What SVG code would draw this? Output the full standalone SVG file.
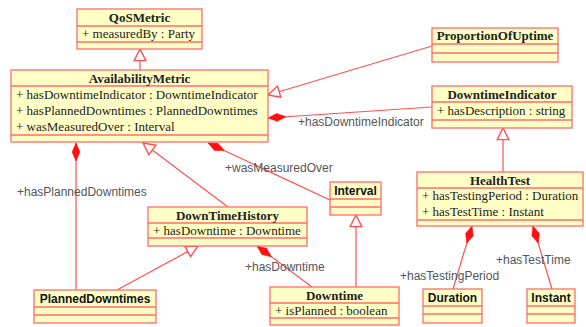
<svg xmlns="http://www.w3.org/2000/svg" width="586" height="327" viewBox="0 0 586 327">
<defs>
<style>
.box{fill:#ffffc6;stroke:#ff6b6b;stroke-width:1.3}
.sep{stroke:#ff6b6b;stroke-width:1.3}
.title{font-family:"Liberation Serif",serif;font-weight:bold;font-size:13px;fill:#222;text-anchor:middle}
.stitle{font-family:"Liberation Sans",sans-serif;font-weight:bold;font-size:12px;fill:#111;text-anchor:middle}
.attr{font-family:"Liberation Serif",serif;font-size:13px;fill:#222}
.lbl{font-family:"Liberation Sans",sans-serif;font-size:12px;fill:#555}
.con{stroke:#ff5050;stroke-width:1.2;fill:none}
.gen{marker-end:url(#tri)}
.comp{marker-start:url(#dia)}
</style>
<marker id="tri" markerUnits="userSpaceOnUse" markerWidth="14" markerHeight="14" viewBox="-1 -6 12 12" refX="10" refY="0" orient="auto">
<path d="M0,-5 L10,0 L0,5 Z" fill="#fff" stroke="#ff5050" stroke-width="1.2"/>
</marker>
<marker id="dia" markerUnits="userSpaceOnUse" markerWidth="18" markerHeight="10" viewBox="0 -4 16 8" refX="0" refY="0" orient="auto">
<path d="M0,0 L8,-3.5 L16,0 L8,3.5 Z" fill="#ff1010" stroke="#ff1010" stroke-width="0.5"/>
</marker>
</defs>

<g id="connectors">
<path class="con gen" d="M140,70 L140,49"/>
<path class="con gen" d="M432,46 L268,95"/>
<path class="con comp" d="M268,118 L432,107"/>
<path class="con comp" d="M76,143 L76,290"/>
<path class="con gen" d="M228,207 L143,143"/>
<path class="con gen" d="M117,290 L198,246"/>
<path class="con comp" d="M208,143 L330,200"/>
<path class="con comp" d="M257,246 L312,287"/>
<path class="con gen" d="M356,287 L356,215"/>
<path class="con gen" d="M503,172 L503,128"/>
<path class="con comp" d="M472,226 L453,289"/>
<path class="con comp" d="M533,226 L552,289"/>
<text class="lbl" x="298" y="126">+hasDowntimeIndicator</text>
<text class="lbl" x="17" y="196">+hasPlannedDowntimes</text>
<text class="lbl" x="225" y="172">+wasMeasuredOver</text>
<text class="lbl" x="245" y="271">+hasDowntime</text>
<text class="lbl" x="400" y="280">+hasTestingPeriod</text>
<text class="lbl" x="496" y="264">+hasTestTime</text>
</g>

<g id="QoSMetric">
<rect class="box" x="77" y="9" width="125" height="40"/>
<line class="sep" x1="77" y1="26" x2="202" y2="26"/>
<line class="sep" x1="77" y1="42" x2="202" y2="42"/>
<text class="title" x="139.5" y="22">QoSMetric</text>
<text class="attr" x="82" y="38">+ measuredBy : Party</text>
</g>

<g id="AvailabilityMetric">
<rect class="box" x="11" y="70" width="257" height="72"/>
<line class="sep" x1="11" y1="86" x2="268" y2="86"/>
<line class="sep" x1="11" y1="135" x2="268" y2="135"/>
<text class="title" x="139.5" y="83">AvailabilityMetric</text>
<text class="attr" x="16" y="99">+ hasDowntimeIndicator : DowntimeIndicator</text>
<text class="attr" x="16" y="115">+ hasPlannedDowntimes : PlannedDowntimes</text>
<text class="attr" x="16" y="131">+ wasMeasuredOver : Interval</text>
</g>

<g id="ProportionOfUptime">
<rect class="box" x="432" y="28" width="126" height="34"/>
<line class="sep" x1="432" y1="44" x2="558" y2="44"/>
<line class="sep" x1="432" y1="53" x2="558" y2="53"/>
<text class="title" x="495" y="40">ProportionOfUptime</text>
</g>

<g id="DowntimeIndicator">
<rect class="box" x="432" y="86" width="140" height="42"/>
<line class="sep" x1="432" y1="102" x2="572" y2="102"/>
<line class="sep" x1="432" y1="120" x2="572" y2="120"/>
<text class="title" x="502" y="99">DowntimeIndicator</text>
<text class="attr" x="437" y="115">+ hasDescription : string</text>
</g>

<g id="HealthTest">
<rect class="box" x="417" y="172" width="166" height="54"/>
<line class="sep" x1="417" y1="188" x2="583" y2="188"/>
<line class="sep" x1="417" y1="220" x2="583" y2="220"/>
<text class="title" x="500" y="185">HealthTest</text>
<text class="attr" x="422" y="200">+ hasTestingPeriod : Duration</text>
<text class="attr" x="422" y="216">+ hasTestTime : Instant</text>
</g>

<g id="Interval">
<rect class="box" x="330" y="182" width="51" height="33"/>
<line class="sep" x1="330" y1="199" x2="381" y2="199"/>
<line class="sep" x1="330" y1="207" x2="381" y2="207"/>
<text class="stitle" x="355.5" y="195">Interval</text>
</g>

<g id="DownTimeHistory">
<rect class="box" x="148" y="207" width="159" height="39"/>
<line class="sep" x1="148" y1="223" x2="307" y2="223"/>
<line class="sep" x1="148" y1="238" x2="307" y2="238"/>
<text class="title" x="227.5" y="220">DownTimeHistory</text>
<text class="attr" x="153" y="235">+ hasDowntime : Downtime</text>
</g>

<g id="Downtime">
<rect class="box" x="270" y="287" width="129" height="38"/>
<line class="sep" x1="270" y1="303" x2="399" y2="303"/>
<line class="sep" x1="270" y1="318" x2="399" y2="318"/>
<text class="title" x="334.5" y="300">Downtime</text>
<text class="attr" x="275" y="315">+ isPlanned : boolean</text>
</g>

<g id="PlannedDowntimes">
<rect class="box" x="34" y="290" width="122" height="33"/>
<line class="sep" x1="34" y1="307" x2="156" y2="307"/>
<line class="sep" x1="34" y1="315" x2="156" y2="315"/>
<text class="stitle" x="95" y="303">PlannedDowntimes</text>
</g>

<g id="Duration">
<rect class="box" x="423" y="289" width="59" height="34"/>
<line class="sep" x1="423" y1="306" x2="482" y2="306"/>
<line class="sep" x1="423" y1="314" x2="482" y2="314"/>
<text class="stitle" x="452.5" y="302">Duration</text>
</g>

<g id="Instant">
<rect class="box" x="527" y="289" width="48" height="34"/>
<line class="sep" x1="527" y1="306" x2="575" y2="306"/>
<line class="sep" x1="527" y1="314" x2="575" y2="314"/>
<text class="stitle" x="551" y="302">Instant</text>
</g>
</svg>
